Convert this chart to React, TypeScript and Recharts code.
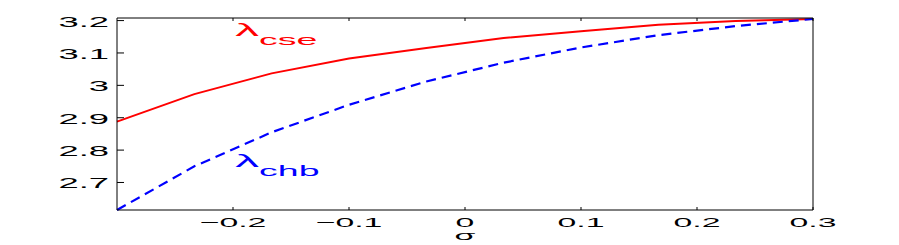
import React from 'react';
import { LineChart, Line, XAxis, YAxis, ReferenceDot, Label } from 'recharts';

const sigma = [-0.3, -0.2333, -0.1667, -0.1, -0.0333, 0.0333, 0.1, 0.1667, 0.2333, 0.3];
const lambdaCse = [2.888, 2.973, 3.037, 3.083, 3.115, 3.146, 3.167, 3.187, 3.199, 3.205];
const lambdaChb = [2.615, 2.75, 2.855, 2.94, 3.012, 3.07, 3.117, 3.155, 3.183, 3.205];
const xTicks = [-0.2, -0.1, 0, 0.1, 0.2, 0.3];
const yTicks = [2.7, 2.8, 2.9, 3, 3.1, 3.2];

const data = sigma.map((s, i) => ({ s, cse: lambdaCse[i], chb: lambdaChb[i] }));

const FONT = '"Liberation Sans", Arial, sans-serif';
const SX = 2.6; // text in the original is stretched sideways

const fmt = (v: number) => (v < 0 ? '\u2212' + String(-v) : String(v));

const BottomTick = ({ x, y, payload }: any) => (
  <g>
    <line x1={x} y1={y} x2={x} y2={y - 3} stroke="#000" />
    <text transform={`translate(${x},${y + 17}) scale(${SX},1)`} textAnchor="middle" fontFamily={FONT} fontSize={13} fill="#000">
      {fmt(payload.value)}
    </text>
  </g>
);

const TopTick = ({ x, y }: any) => <line x1={x} y1={y} x2={x} y2={y + 3} stroke="#000" />;

const LeftTick = ({ x, y, payload }: any) => (
  <g>
    <line x1={x} y1={y} x2={x + 7} y2={y} stroke="#000" />
    <text transform={`translate(${x - 8},${y + 6}) scale(${SX},1)`} textAnchor="end" fontFamily={FONT} fontSize={14} fill="#000">
      {fmt(payload.value)}
    </text>
  </g>
);

const RightTick = ({ x, y }: any) => <line x1={x} y1={y} x2={x - 7} y2={y} stroke="#000" />;

const SigmaLabel = ({ viewBox }: any) => (
  <text transform={`translate(${viewBox.x + viewBox.width / 2},${viewBox.y + 30}) scale(${SX},1)`} textAnchor="middle" fontFamily={FONT} fontSize={13} fill="#000">
    σ
  </text>
);

const annot = (sub: string, color: string) => ({ cx, cy }: any) => (
  <text transform={`translate(${cx},${cy}) scale(2.5,1)`} fontFamily={FONT} fill={color}>
    <tspan fontSize={19}>λ</tspan>
    <tspan fontSize={15} dy={9}>{sub}</tspan>
  </text>
);

export default function App() {
  return (
    <div style={{ position: 'absolute', left: 0, top: 0 }}>
      <LineChart width={899} height={245} data={data} margin={{ top: 0, right: 0, bottom: 0, left: 0 }}>
        <XAxis
          dataKey="s"
          type="number"
          domain={[-0.3, 0.3]}
          ticks={xTicks}
          height={35}
          tickSize={0}
          tickMargin={0}
          tickLine={false}
          axisLine={{ stroke: '#000' }}
          tick={<BottomTick />}
          interval={0}
        >
          <Label content={<SigmaLabel />} />
        </XAxis>
        <XAxis
          xAxisId="top"
          orientation="top"
          dataKey="s"
          type="number"
          domain={[-0.3, 0.3]}
          ticks={xTicks}
          height={18}
          tickSize={0}
          tickMargin={0}
          tickLine={false}
          axisLine={{ stroke: '#000' }}
          tick={<TopTick />}
          interval={0}
        />
        <YAxis
          type="number"
          domain={[2.615, 3.208]}
          ticks={yTicks}
          width={117}
          tickSize={0}
          tickMargin={0}
          tickLine={false}
          axisLine={{ stroke: '#000' }}
          tick={<LeftTick />}
          interval={0}
        />
        <YAxis
          yAxisId="right"
          orientation="right"
          type="number"
          domain={[2.615, 3.208]}
          ticks={yTicks}
          width={86}
          tickSize={0}
          tickMargin={0}
          tickLine={false}
          axisLine={{ stroke: '#000' }}
          tick={<RightTick />}
          interval={0}
        />
        <Line type="linear" dataKey="cse" stroke="#ff0000" strokeWidth={2} dot={false} isAnimationActive={false} />
        <Line type="linear" dataKey="chb" stroke="#0000ff" strokeWidth={2.2} strokeDasharray="10 6" dot={false} isAnimationActive={false} />
        <ReferenceDot x={-0.198} y={3.152} r={0} shape={annot('cse', '#ff0000')} />
        <ReferenceDot x={-0.198} y={2.748} r={0} shape={annot('chb', '#0000ff')} />
      </LineChart>
    </div>
  );
}
